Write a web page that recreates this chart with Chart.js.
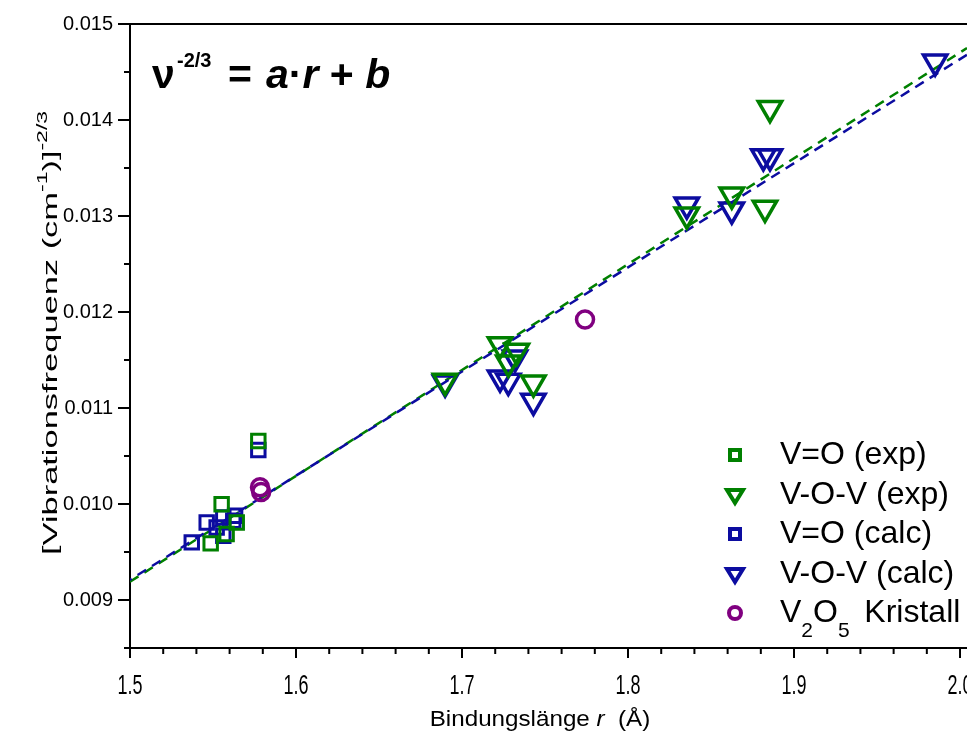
<!DOCTYPE html>
<html>
<head>
<meta charset="utf-8">
<script src="https://cdn.jsdelivr.net/npm/chart.js"></script>
<style>
  html, body { margin: 0; padding: 0; background: #fff; }
  #wrap { width: 967px; height: 731px; }
</style>
</head>
<body>
<div id="wrap"><canvas id="grafico" width="967" height="731"></canvas></div>
<script>
// valores
const voExpR = [1.5486, 1.5552, 1.5582, 1.5643, 1.5773];
const voExpV = [0.00959, 0.009998, 0.009687, 0.009808, 0.010657];

const vovExpR = [1.6898, 1.7229, 1.7330, 1.7279, 1.7430, 1.8354, 1.8625, 1.8825, 1.8855];
const vovExpV = [0.011281, 0.011662, 0.011593, 0.011472, 0.011264, 0.013014, 0.013222, 0.013084, 0.014123];

const voCalcR = [1.5372, 1.5462, 1.5522, 1.5562, 1.5562, 1.5622, 1.5633, 1.5773];
const voCalcV = [0.009600, 0.009808, 0.009756, 0.009860, 0.009669, 0.009825, 0.009877, 0.010563];

const vovCalcR = [1.6898, 1.7229, 1.7279, 1.7319, 1.7430, 1.8354, 1.8625, 1.8815, 1.8855, 1.9850];
const vovCalcV = [0.011264, 0.011316, 0.011281, 0.011524, 0.011073, 0.013118, 0.013066, 0.013620, 0.013620, 0.014608];

const kristallR = [1.5783, 1.5790, 1.7741];
const kristallV = [0.010175, 0.010125, 0.011922];

const fitR = [1.5, 2.0042];
const fitExpV = [0.00919, 0.01475];
const fitCalcV = [0.00921, 0.01468];

const xTicks = [1.5, 1.6, 1.7, 1.8, 1.9, 2.0];
const yTicks = [0.009, 0.010, 0.011, 0.012, 0.013, 0.014, 0.015];

const verde = '#008000';
const azul = '#0c0ca0';
const roxo = '#800080';
const fonte = "'Liberation Sans', Arial, sans-serif";

function pontos(xs, ys) {
    return xs.map((x, i) => ({ x: x, y: ys[i] }));
}

function perto(v, lista) {
    return lista.some(t => Math.abs(t - v) < 1e-7);
}

// texto esticado (o original tem letras deformadas)
function textoEsticado(ctx, texto, x, y, ex, ey) {
    ctx.save();
    ctx.translate(x, y);
    ctx.scale(ex, ey);
    ctx.fillText(texto, 0, 0);
    ctx.restore();
}

const legenda = [
    { texto: 'V=O (exp)', forma: 'rect', cor: verde },
    { texto: 'V-O-V (exp)', forma: 'tri', cor: verde },
    { texto: 'V=O (calc)', forma: 'rect', cor: azul },
    { texto: 'V-O-V (calc)', forma: 'tri', cor: azul },
    { texto: 'V2O5', forma: 'circ', cor: roxo }
];

function desenhaMarcador(ctx, forma, cor, x, y) {
    ctx.save();
    ctx.strokeStyle = cor;
    ctx.lineWidth = 4;
    ctx.lineJoin = 'miter';
    ctx.beginPath();
    if (forma === 'rect') {
        ctx.rect(x - 5, y - 5, 10, 10);
    } else if (forma === 'tri') {
        ctx.moveTo(x - 8, y - 5);
        ctx.lineTo(x + 8, y - 5);
        ctx.lineTo(x, y + 8);
        ctx.closePath();
    } else {
        ctx.arc(x, y, 6, 0, Math.PI * 2);
    }
    ctx.stroke();
    ctx.restore();
}

// desenha textos, molduras e marcas dos eixos
const extras = {
    id: 'extras',
    afterDraw(chart) {
        const ctx = chart.ctx;
        const area = chart.chartArea;
        const sx = chart.scales.x;
        const sy = chart.scales.y;
        ctx.save();
        ctx.strokeStyle = '#000';
        ctx.lineWidth = 2;

        // moldura superior
        ctx.beginPath();
        ctx.moveTo(area.left - 1, area.top);
        ctx.lineTo(area.right, area.top);
        ctx.stroke();

        // marcas do eixo x
        for (let i = 0; i <= 26; i++) {
            const v = 1.5 + i * 0.02;
            if (v > sx.max) break;
            const px = sx.getPixelForValue(v);
            const comp = (i % 5 === 0) ? 10 : 6;
            ctx.beginPath();
            ctx.moveTo(px, area.bottom);
            ctx.lineTo(px, area.bottom + comp);
            ctx.stroke();
        }
        // marcas do eixo y
        for (let i = 0; i <= 13; i++) {
            const v = 0.0085 + i * 0.0005;
            const py = sy.getPixelForValue(v);
            const comp = (i % 2 === 1) ? 12 : 6;
            ctx.beginPath();
            ctx.moveTo(area.left, py);
            ctx.lineTo(area.left - comp, py);
            ctx.stroke();
        }

        ctx.fillStyle = '#000';
        ctx.textBaseline = 'alphabetic';

        // rótulos do eixo x
        ctx.font = '18px ' + fonte;
        ctx.textAlign = 'center';
        xTicks.forEach(v => {
            textoEsticado(ctx, v.toFixed(1), sx.getPixelForValue(v), 694, 1, 1.5);
        });
        ctx.textAlign = 'left';

        // equação
        ctx.font = 'bold 41px ' + fonte;
        ctx.fillText('\u03BD', 152, 88);
        ctx.font = 'bold 20px ' + fonte;
        ctx.fillText('-2/3', 177, 67);
        ctx.font = 'bold 41px ' + fonte;
        ctx.fillText('=', 228, 88);
        let cx = 266;
        const partes = [['a', true], ['\u00B7', false], ['r', true], [' + ', false], ['b', true]];
        partes.forEach(p => {
            ctx.font = (p[1] ? 'italic ' : '') + 'bold 41px ' + fonte;
            ctx.fillText(p[0], cx, 88);
            cx += ctx.measureText(p[0]).width;
        });

        // título do eixo x
        const ex = 1.1;
        const t1 = 'Bindungslänge ';
        const t2 = 'r';
        const t3 = '  (Å)';
        ctx.font = '22px ' + fonte;
        const w1 = ctx.measureText(t1).width * ex;
        const w3 = ctx.measureText(t3).width * ex;
        ctx.font = 'italic 22px ' + fonte;
        const w2 = ctx.measureText(t2).width * ex;
        let tx = 540 - (w1 + w2 + w3) / 2;
        ctx.font = '22px ' + fonte;
        textoEsticado(ctx, t1, tx, 726, ex, 1);
        ctx.font = 'italic 22px ' + fonte;
        textoEsticado(ctx, t2, tx + w1, 726, ex, 1);
        ctx.font = '22px ' + fonte;
        textoEsticado(ctx, t3, tx + w1 + w2, 726, ex, 1);

        // título do eixo y
        const ey = 1.64;
        const pedacos = [
            ['[Vibrationsfrequenz (cm', false],
            ['-1', true],
            [')]', false],
            ['-2/3', true]
        ];
        let total = 0;
        pedacos.forEach(p => {
            ctx.font = (p[1] ? '14px ' : '21px ') + fonte;
            total += ctx.measureText(p[0]).width * ey;
        });
        ctx.translate(57, 333);
        ctx.rotate(-Math.PI / 2);
        let px = -total / 2;
        pedacos.forEach(p => {
            ctx.font = (p[1] ? '14px ' : '21px ') + fonte;
            textoEsticado(ctx, p[0], px, p[1] ? -10 : 0, ey, 1);
            px += ctx.measureText(p[0]).width * ey;
        });
        ctx.restore();

        // legenda
        ctx.save();
        ctx.fillStyle = '#000';
        ctx.textBaseline = 'middle';
        const ys = [455, 495, 534, 574, 613];
        legenda.forEach((item, i) => {
            desenhaMarcador(ctx, item.forma, item.cor, 735, ys[i]);
            if (item.forma === 'circ') {
                let lx = 780;
                ctx.font = '32px ' + fonte;
                ctx.fillText('V', lx, ys[i]);
                lx += ctx.measureText('V').width;
                ctx.font = '21px ' + fonte;
                ctx.fillText('2', lx, ys[i] + 18);
                lx += ctx.measureText('2').width;
                ctx.font = '32px ' + fonte;
                ctx.fillText('O', lx, ys[i]);
                lx += ctx.measureText('O').width;
                ctx.font = '21px ' + fonte;
                ctx.fillText('5', lx, ys[i] + 18);
                lx += ctx.measureText('5').width;
                ctx.font = '32px ' + fonte;
                ctx.fillText('  Kristall', lx - 3, ys[i]);
            } else {
                ctx.font = '32px ' + fonte;
                ctx.fillText(item.texto, 780, ys[i]);
            }
        });
        ctx.restore();
    }
};

const marcaQuadrado = { pointStyle: 'rect', pointRadius: 9.5, pointBorderWidth: 3, pointBackgroundColor: 'rgba(0,0,0,0)', showLine: false };
const marcaTriangulo = { pointStyle: 'triangle', pointRotation: 180, pointRadius: 13.5, pointBorderWidth: 3.5, pointBackgroundColor: 'rgba(0,0,0,0)', showLine: false };
const marcaCirculo = { pointStyle: 'circle', pointRadius: 8.5, pointBorderWidth: 3.5, pointBackgroundColor: 'rgba(0,0,0,0)', showLine: false };

const grafico = new Chart(document.getElementById('grafico'), {
    type: 'scatter',
    data: {
        datasets: [
            Object.assign({ label: 'V=O (exp)', data: pontos(voExpR, voExpV), borderColor: verde, pointBorderColor: verde }, marcaQuadrado),
            Object.assign({ label: 'V-O-V (exp)', data: pontos(vovExpR, vovExpV), borderColor: verde, pointBorderColor: verde }, marcaTriangulo),
            Object.assign({ label: 'V=O (calc)', data: pontos(voCalcR, voCalcV), borderColor: azul, pointBorderColor: azul }, marcaQuadrado),
            Object.assign({ label: 'V-O-V (calc)', data: pontos(vovCalcR, vovCalcV), borderColor: azul, pointBorderColor: azul }, marcaTriangulo),
            Object.assign({ label: 'V2O5 Kristall', data: pontos(kristallR, kristallV), borderColor: roxo, pointBorderColor: roxo }, marcaCirculo),
            {
                label: 'fit calc', data: pontos(fitR, fitCalcV), showLine: true, pointRadius: 0,
                borderColor: azul, borderWidth: 2.5, borderDash: [10, 7], borderDashOffset: 8
            },
            {
                label: 'fit exp', data: pontos(fitR, fitExpV), showLine: true, pointRadius: 0,
                borderColor: verde, borderWidth: 2.5, borderDash: [10, 7]
            }
        ]
    },
    options: {
        responsive: false,
        animation: false,
        devicePixelRatio: 1,
        layout: { autoPadding: false, padding: { top: 24, left: 0, right: 0, bottom: 0 } },
        plugins: {
            legend: { display: false },
            tooltip: { enabled: false }
        },
        scales: {
            x: {
                type: 'linear',
                min: 1.5,
                max: 2.0042,
                grid: { display: false, drawTicks: false },
                border: { display: true, color: '#000', width: 2 },
                afterBuildTicks: s => { s.ticks = xTicks.map(v => ({ value: v })); },
                ticks: { display: false },
                afterFit: s => { s.height = 83; s.paddingLeft = 0; s.paddingRight = 0; }
            },
            y: {
                type: 'linear',
                min: 0.0085,
                max: 0.015,
                grid: { display: false, drawTicks: false },
                border: { display: true, color: '#000', width: 2 },
                afterBuildTicks: s => { s.ticks = yTicks.map(v => ({ value: v })); },
                ticks: {
                    color: '#000',
                    padding: 17,
                    font: { family: fonte, size: 20 },
                    callback: v => perto(v, yTicks) ? v.toFixed(3) : ''
                },
                afterFit: s => { s.width = 130; s.paddingTop = 0; s.paddingBottom = 0; }
            }
        }
    },
    plugins: [extras]
});
</script>
</body>
</html>
